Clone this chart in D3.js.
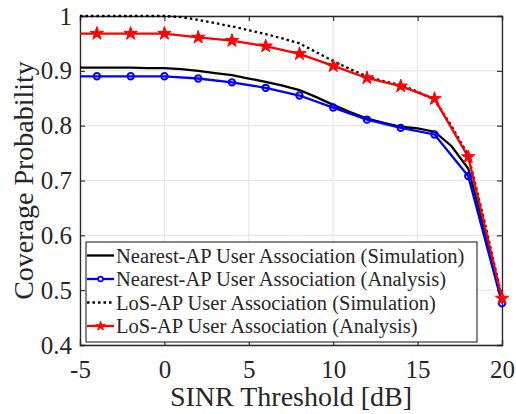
<!DOCTYPE html>
<html><head><meta charset="utf-8">
<script src="https://cdn.jsdelivr.net/npm/d3@7"></script>
<style>body{margin:0;background:#fff;} svg{display:block;}</style>
</head><body>
<svg id="chart" width="516" height="414"></svg>
<script>
// ---- data ----
const simX = [-5,-4,-3,-2,-1,0,1,2,3,4,5,6,7,8,9,10,11,12,13,14,15,16,17,18,19,20];
const nearestSim = [0.906,0.906,0.906,0.906,0.905,0.905,0.903,0.900,0.896,0.892,0.886,0.880,0.873,0.865,0.852,0.838,0.825,0.813,0.805,0.798,0.795,0.789,0.763,0.722,0.605,0.482];
const losSim = [1.0,1.0,1.0,1.0,1.0,1.0,0.998,0.993,0.987,0.981,0.974,0.967,0.959,0.950,0.934,0.918,0.903,0.890,0.881,0.874,0.862,0.847,0.800,0.746,0.620,0.486];
const anaX = [-5,-4,-2,0,2,4,6,8,10,12,14,16,18,20];
const nearestAna = [0.890,0.890,0.890,0.890,0.886,0.879,0.869,0.855,0.833,0.811,0.796,0.784,0.708,0.476];
const losAna = [0.968,0.968,0.968,0.968,0.961,0.955,0.945,0.931,0.909,0.887,0.872,0.849,0.743,0.485];
const xTicks = [-5,0,5,10,15,20];
const xTickLabels = ["-5","0","5","10","15","20"];
const yTicks = [0.4,0.5,0.6,0.7,0.8,0.9,1];
const yTickLabels = ["0.4","0.5","0.6","0.7","0.8","0.9","1"];
const legendLabels = [
  "Nearest-AP User Association (Simulation)",
  "Nearest-AP User Association (Analysis)",
  "LoS-AP User Association (Simulation)",
  "LoS-AP User Association (Analysis)"
];

const svg = d3.select("#chart");
const L = 80, R = 502, T = 16, B = 345;
const x = d3.scaleLinear().domain([-5,20]).range([L,R]);
const y = d3.scaleLinear().domain([0.4,1]).range([B,T]);
const font = "Liberation Serif";
const axisColor = "#262626";

// grid
const g = svg.append("g");
g.selectAll(".gx").data(xTicks).enter().append("line")
  .attr("x1", d=>x(d)).attr("x2", d=>x(d)).attr("y1", T).attr("y2", B)
  .attr("stroke", "#e3e3e3").attr("stroke-width", 1);
g.selectAll(".gy").data(yTicks).enter().append("line")
  .attr("x1", L).attr("x2", R).attr("y1", d=>y(d)).attr("y2", d=>y(d))
  .attr("stroke", "#e3e3e3").attr("stroke-width", 1);

// axes (ticks inward)
const tl = 5;
const xAxisB = d3.axisBottom(x).tickValues(xTicks).tickSize(-tl).tickPadding(15).tickFormat((d,i)=>xTickLabels[i]);
const xAxisT = d3.axisTop(x).tickValues(xTicks).tickSize(-tl).tickFormat("");
const yAxisL = d3.axisLeft(y).tickValues(yTicks).tickSize(-tl).tickPadding(8).tickFormat((d,i)=>yTickLabels[i]);
const yAxisR = d3.axisRight(y).tickValues(yTicks).tickSize(-tl).tickFormat("");

function styleAxis(sel){
  sel.attr("font-family", font).attr("font-size", 25);
  sel.selectAll("path").attr("stroke", axisColor).attr("stroke-width", 1.3);
  sel.selectAll("line").attr("stroke", axisColor).attr("stroke-width", 1.1);
  sel.selectAll("text").attr("fill", axisColor).attr("font-family", font).attr("font-size", 25);
}
styleAxis(svg.append("g").attr("transform", `translate(0,${B})`).call(xAxisB));
styleAxis(svg.append("g").attr("transform", `translate(0,${T})`).call(xAxisT));
styleAxis(svg.append("g").attr("transform", `translate(${L},0)`).call(yAxisL));
styleAxis(svg.append("g").attr("transform", `translate(${R},0)`).call(yAxisR));

// titles
svg.append("text").attr("x", (L+R)/2).attr("y", 406).attr("text-anchor","middle")
  .attr("font-family", font).attr("font-size", 28).attr("fill", axisColor).text("SINR Threshold [dB]");
svg.append("text").attr("transform", `translate(33,${(T+B)/2}) rotate(-90)`).attr("text-anchor","middle")
  .attr("font-family", font).attr("font-size", 28).attr("fill", axisColor).text("Coverage Probability");

// lines
const line = (xs) => d3.line().x((d,i)=>x(xs[i])).y(d=>y(d));
const plot = svg.append("g");
const lw = 2.3;
plot.append("path").datum(nearestSim).attr("d", line(simX)).attr("fill","none").attr("stroke","#000").attr("stroke-width",lw);
plot.append("path").datum(nearestAna).attr("d", line(anaX)).attr("fill","none").attr("stroke","#0000ff").attr("stroke-width",lw);
plot.selectAll(".bc").data(nearestAna.map((v,i)=>[anaX[i],v]).filter(d=>d[0]!==-5)).enter().append("circle")
  .attr("cx", d=>x(d[0])).attr("cy", d=>y(d[1])).attr("r", 3.2)
  .attr("fill","none").attr("stroke","#0000ff").attr("stroke-width",2);
plot.append("path").datum(losSim).attr("d", line(simX)).attr("fill","none").attr("stroke","#000").attr("stroke-width",lw).attr("stroke-dasharray","2.5,3");
plot.append("path").datum(losAna).attr("d", line(anaX)).attr("fill","none").attr("stroke","#ff0000").attr("stroke-width",lw);
const star = d3.symbol().type(d3.symbolStar).size(55);
plot.selectAll(".rs").data(losAna.map((v,i)=>[anaX[i],v]).filter(d=>d[0]!==-5)).enter().append("path")
  .attr("d", star).attr("transform", d=>`translate(${x(d[0])},${y(d[1])})`)
  .attr("fill","#ff0000").attr("stroke","#ff0000").attr("stroke-width",1);

// legend
const lg = svg.append("g");
const lx0 = 86, lx1 = 477, ly0 = 242, ly1 = 342;
lg.append("rect").attr("x", lx0).attr("y", ly0).attr("width", lx1-lx0).attr("height", ly1-ly0)
  .attr("fill","#fff").attr("stroke", axisColor).attr("stroke-width",1.1);
const rowsY = [255.5, 279, 302.5, 326];
const styles = [
  {c:"#000", dash:null, m:null},
  {c:"#0000ff", dash:null, m:"circle"},
  {c:"#000", dash:"2.5,3", m:null},
  {c:"#ff0000", dash:null, m:"star"}
];
legendLabels.forEach((lab,i)=>{
  const yy = rowsY[i];
  const s = styles[i];
  const ln = lg.append("line").attr("x1", 87).attr("x2", 114).attr("y1", yy).attr("y2", yy)
    .attr("stroke", s.c).attr("stroke-width", lw);
  if (s.dash) ln.attr("stroke-dasharray", s.dash);
  if (s.m === "circle") lg.append("circle").attr("cx", 100.5).attr("cy", yy).attr("r", 2.4).attr("fill","#fff").attr("stroke", s.c).attr("stroke-width", 1.6);
  if (s.m === "star") lg.append("path").attr("d", d3.symbol().type(d3.symbolStar).size(28)).attr("transform", `translate(100.5,${yy})`).attr("fill", s.c).attr("stroke", s.c).attr("stroke-width", 0.8);
  lg.append("text").attr("x", 116).attr("y", yy).attr("dy", "0.35em")
    .attr("font-family", font).attr("font-size", 20.5).attr("fill", axisColor).text(lab);
});
</script>
</body></html>
